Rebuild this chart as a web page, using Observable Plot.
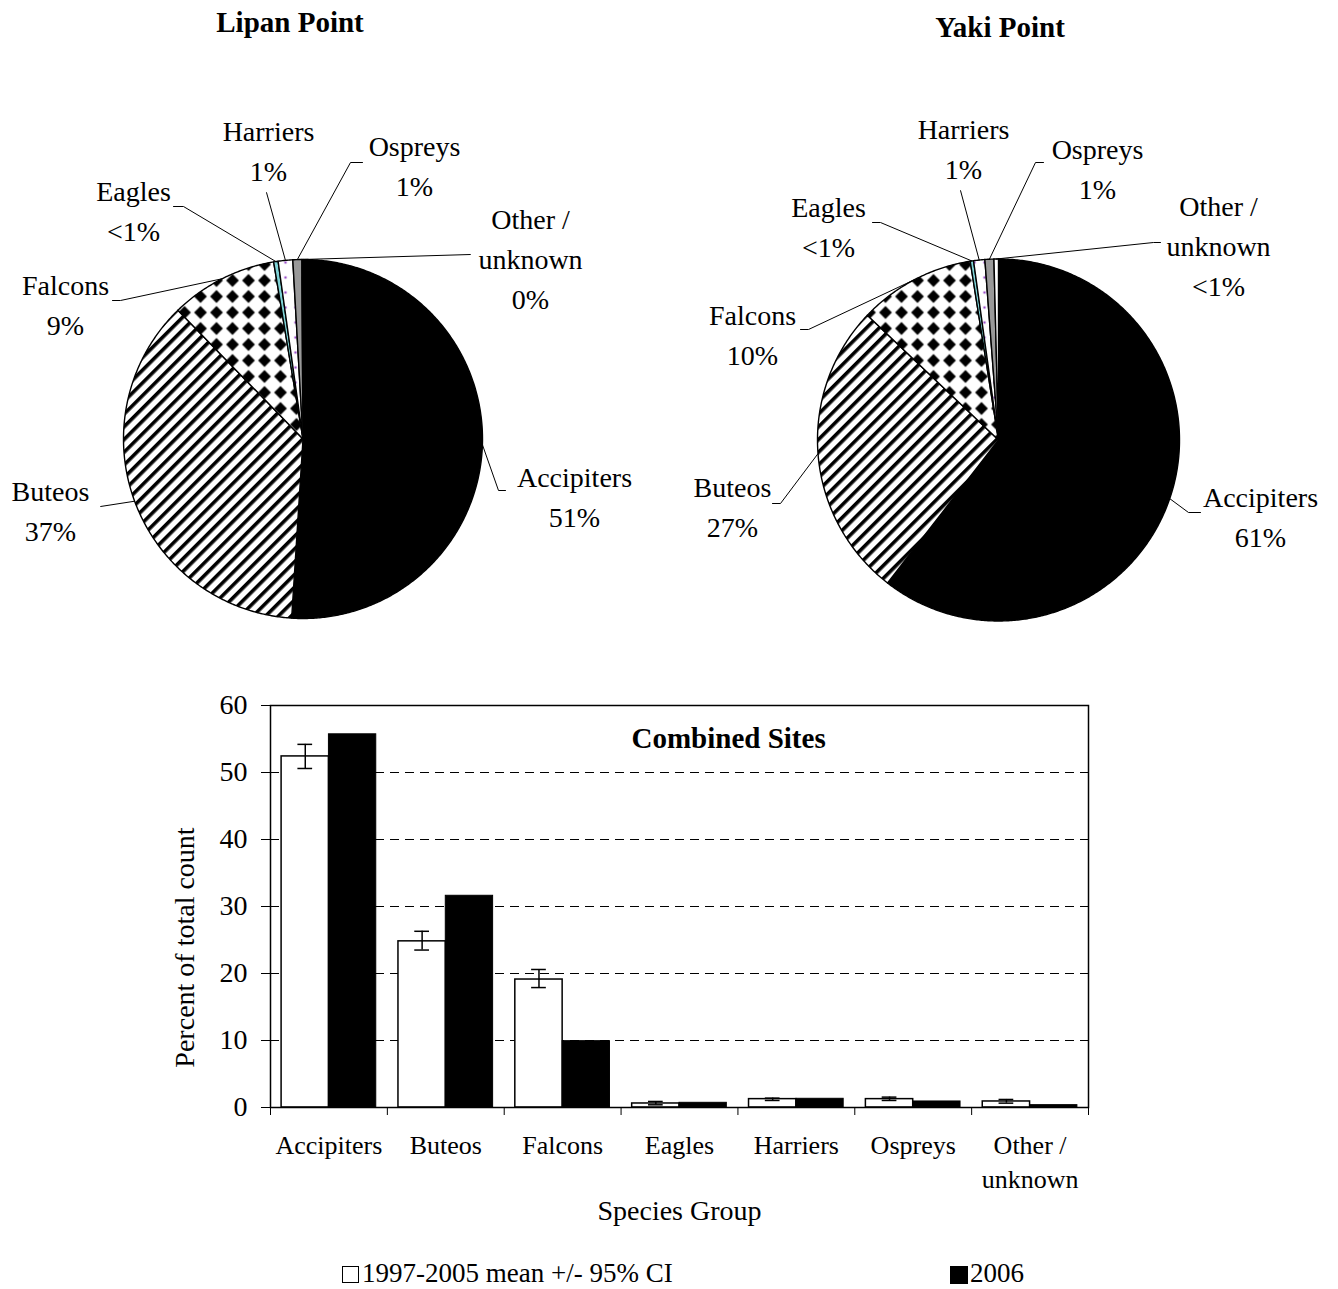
<!DOCTYPE html>
<html>
<head>
<meta charset="utf-8">
<script src="https://cdn.jsdelivr.net/npm/d3@7"></script>
<script src="https://cdn.jsdelivr.net/npm/@observablehq/plot@0.6"></script>
<style>
  body { margin: 0; background: #fff; }
  #page { position: relative; width: 1338px; height: 1289px; background: #fff; overflow: hidden;
          font-family: "Liberation Serif", "Times New Roman", serif; color: #000; }
  .abs { position: absolute; }
  .ptitle { font-weight: bold; font-size: 29px; line-height: 34px; white-space: nowrap; transform: translateX(-50%); }
  .leg { font-size: 27px; line-height: 24px; white-space: nowrap; }
</style>
</head>
<body>
<div id="page">
  <svg width="0" height="0" style="position:absolute">
    <defs>
      <pattern id="pStripes" patternUnits="userSpaceOnUse" width="9" height="9" patternTransform="rotate(-45)">
        <rect width="9" height="9" fill="#fff"></rect>
        <rect width="9" height="3.6" fill="#000"></rect>
      </pattern>
      <pattern id="pDiamond" patternUnits="userSpaceOnUse" width="16" height="16">
        <rect width="16" height="16" fill="#fff"></rect>
        <polygon points="8,1.6 14.4,8 8,14.4 1.6,8" fill="#000"></polygon>
      </pattern>
      <pattern id="pDots" patternUnits="userSpaceOnUse" width="10" height="15">
        <rect width="10" height="15" fill="#fff"></rect>
        <circle cx="5" cy="7" r="1.3" fill="#9b4fc9"></circle>
      </pattern>
    </defs>
  </svg>
  <div class="abs ptitle" style="left:290px; top:5px;">Lipan Point</div>
  <div class="abs ptitle" style="left:1000px; top:10px;">Yaki Point</div>
  <div id="pie1" class="abs" style="left:0px; top:0px;"></div>
  <div id="pie2" class="abs" style="left:669px; top:0px;"></div>
  <div id="bars" class="abs" style="left:0px; top:680px;"></div>
  <div class="abs" style="left:342px; top:1266px; width:15px; height:15px; border:1.5px solid #000; background:#fff;"></div>
  <div class="abs leg" style="left:362px; top:1261px;">1997-2005 mean +/- 95% CI</div>
  <div class="abs" style="left:950px; top:1266px; width:18px; height:18px; background:#000;"></div>
  <div class="abs leg" style="left:970px; top:1261px;">2006</div>
</div>
<script>
// ---------------- DATA ----------------
const groups = ["Accipiters", "Buteos", "Falcons", "Eagles", "Harriers", "Ospreys", "Other / unknown"];
const pieNames = ["Accipiters", "Buteos", "Falcons", "Eagles", "Harriers", "Ospreys", "Other /\nunknown"];

// Lipan Point shares (%)
const lipanPct = [50.7, 36.5, 9.6, 0.4, 1.3, 0.8, 0.1];
const lipanText = ["51%", "37%", "9%", "<1%", "1%", "1%", "0%"];

// Yaki Point shares (%)
const yakiPct = [60.5, 26.6, 10.4, 0.3, 1.0, 0.8, 0.4];
const yakiText = ["61%", "27%", "10%", "<1%", "1%", "1%", "<1%"];

// Combined sites bar chart
const barCats = ["Accipiters", "Buteos", "Falcons", "Eagles", "Harriers", "Ospreys", "Other /\nunknown"];
const mean9705 = [52.4, 24.8, 19.1, 0.6, 1.25, 1.25, 0.9];
const ciLow    = [50.6, 23.5, 17.9, 0.4, 1.05, 1.05, 0.65];
const ciHigh   = [54.2, 26.3, 20.6, 0.9, 1.4, 1.55, 1.2];
const y2006    = [55.7, 31.6, 9.9, 0.7, 1.3, 0.9, 0.35];
const yTicks   = [0, 10, 20, 30, 40, 50, 60];

// ---------------- STYLE / LAYOUT ----------------
const sliceFill = ["#000", "url(#pStripes)", "url(#pDiamond)", "#7fd3d6", "url(#pDots)", "#999", "#fff"];
const serif = "Liberation Serif, Times New Roman, serif";

// label layout: pixel offsets from pie centre (text first-line centre, leader elbow, leader end)
const lipanLayout = [
  {tx: 271.5, ty: 35.5,   ex: 195.5, ey: 51.5,   lx: 202.5, ly: 51.5},
  {tx: -252.5, ty: 49.5,  ex: -202.5, ey: 67.5,  lx: -202.5, ly: 67.5},
  {tx: -237.5, ty: -156.5, ex: -182.5, ey: -138.5, lx: -190.5, ly: -138.5},
  {tx: -169.5, ty: -250.5, ex: -119.5, ey: -232.5, lx: -129.5, ly: -232.5},
  {tx: -34.5, ty: -310.5, ex: -36.5, ey: -246.5, lx: -36.5, ly: -246.5},
  {tx: 111.5, ty: -295.5, ex: 47.5, ey: -276.5, lx: 59.5, ly: -276.5},
  {tx: 227.5, ty: -222.5, ex: 167.5, ey: -184.5, lx: 167.5, ly: -184.5}
];
const yakiLayout = [
  {tx: 262, ty: 54.5,    ex: 190, ey: 72.5,    lx: 202, ly: 72.5},
  {tx: -266, ty: 44.5,   ex: -218, ey: 63.5,   lx: -226, ly: 63.5},
  {tx: -246, ty: -127.5, ex: -190, ey: -110.5, lx: -198, ly: -110.5},
  {tx: -170, ty: -235.5, ex: -118, ey: -217.5, lx: -126, ly: -217.5},
  {tx: -35, ty: -313.5,  ex: -38, ey: -249.5,  lx: -38, ly: -249.5},
  {tx: 99, ty: -293.5,   ex: 37, ey: -277.5,   lx: 45, ly: -277.5},
  {tx: 220, ty: -236.5,  ex: 155, ey: -197.5,  lx: 162, ly: -197.5}
];

function piePlot(pcts, valTexts, layout, W, H, cx, cy, R) {
  const arcs = d3.pie().sort(null).value(d => d)(pcts);
  const marks = [];
  arcs.forEach((a, i) => {
    const pts = [{x: 0, y: 0}];
    const n = Math.max(2, Math.ceil((a.endAngle - a.startAngle) / (Math.PI / 360)));
    for (let k = 0; k <= n; k++) {
      const t = a.startAngle + (a.endAngle - a.startAngle) * k / n;
      pts.push({x: Math.sin(t), y: Math.cos(t)});
    }
    marks.push(Plot.line(pts, {x: "x", y: "y", fill: sliceFill[i], stroke: "#000", strokeWidth: 1.4,
      strokeLinejoin: "round", curve: "linear-closed"}));
  });
  // leader lines
  arcs.forEach((a, i) => {
    const m = (a.startAngle + a.endAngle) / 2;
    const L = layout[i];
    const pts = [
      {x: Math.sin(m), y: Math.cos(m)},
      {x: L.ex / R, y: -L.ey / R},
      {x: L.lx / R, y: -L.ly / R}
    ];
    marks.push(Plot.line(pts, {x: "x", y: "y", stroke: "#000", strokeWidth: 1}));
  });
  // labels
  const labels = arcs.map((a, i) => {
    const txt = pieNames[i] + "\n" + valTexts[i];
    const nl = txt.split("\n").length;
    return {x: layout[i].tx / R, y: -(layout[i].ty + (nl - 1) * 20) / R, t: txt};
  });
  marks.push(Plot.text(labels, {x: "x", y: "y", text: "t", fontSize: 28, lineHeight: 1.43,
    textAnchor: "middle", lineAnchor: "middle", fill: "#000"}));
  return Plot.plot({
    width: W, height: H, margin: 0,
    x: {domain: [-cx / R, (W - cx) / R], axis: null},
    y: {domain: [-(H - cy) / R, cy / R], axis: null},
    style: {fontFamily: serif, background: "transparent", color: "#000", overflow: "visible"},
    marks
  });
}

document.getElementById("pie1").append(piePlot(lipanPct, lipanText, lipanLayout, 669, 650, 302.5, 438.5, 179.5));
document.getElementById("pie2").append(piePlot(yakiPct, yakiText, yakiLayout, 669, 650, 329, 439.5, 181));

// ---------------- BAR CHART ----------------
const pad = 0.095;
const rows = barCats.map((c, i) => ({i, c, mean: mean9705[i], lo: ciLow[i], hi: ciHigh[i], v: y2006[i]}));
const bars = Plot.plot({
  width: 1338, height: 560,
  marginLeft: 270, marginRight: 250, marginTop: 25, marginBottom: 133,
  x: {domain: [0, barCats.length], axis: null},
  y: {domain: [0, 60], axis: null},
  style: {fontFamily: serif, background: "transparent", color: "#000", overflow: "visible"},
  marks: [
    Plot.ruleY([10, 20, 30, 40, 50], {stroke: "#000", strokeWidth: 1, strokeDasharray: "9,6"}),
    Plot.rectY(rows, {x1: d => d.i + pad, x2: d => d.i + 0.5, y1: 0, y2: "mean", fill: "#fff", stroke: "#000", strokeWidth: 1.5}),
    Plot.rectY(rows, {x1: d => d.i + 0.5, x2: d => d.i + 1 - pad, y1: 0, y2: "v", fill: "#000", stroke: "#000", strokeWidth: 1}),
    Plot.ruleX(rows, {x: d => d.i + (pad + 0.5) / 2, y1: "lo", y2: "hi", stroke: "#000", strokeWidth: 1.5}),
    Plot.ruleY(rows, {y: "lo", x1: d => d.i + (pad + 0.5) / 2 - 0.063, x2: d => d.i + (pad + 0.5) / 2 + 0.063, stroke: "#000", strokeWidth: 1.5}),
    Plot.ruleY(rows, {y: "hi", x1: d => d.i + (pad + 0.5) / 2 - 0.063, x2: d => d.i + (pad + 0.5) / 2 + 0.063, stroke: "#000", strokeWidth: 1.5}),
    Plot.frame({stroke: "#000", strokeWidth: 1.5}),
    Plot.axisY({ticks: yTicks, tickSize: 9, tickPadding: 14, fontSize: 28, label: null, tickFormat: d => String(d)}),
    Plot.axisX({ticks: d3.range(barCats.length + 1), tickSize: 8, tickFormat: () => "", label: null}),
    Plot.text(rows, {x: d => d.i + 0.5, text: "c", frameAnchor: "bottom", dy: 23, lineAnchor: "top",
      fontSize: 26, lineHeight: 1.3, fill: "#000"}),
    Plot.text(["Species Group"], {x: barCats.length / 2, frameAnchor: "bottom", dy: 104, lineAnchor: "middle", fontSize: 28, fill: "#000"}),
    Plot.text(["Percent of total count"], {frameAnchor: "left", dx: -85, dy: 41, rotate: -90, fontSize: 28,
      textAnchor: "middle", lineAnchor: "middle", fill: "#000"}),
    Plot.text(["Combined Sites"], {x: 3.92, frameAnchor: "top", dy: 33, lineAnchor: "middle", fontSize: 29, fontWeight: "bold", fill: "#000"})
  ]
});
document.getElementById("bars").append(bars);
</script>
</body>
</html>
